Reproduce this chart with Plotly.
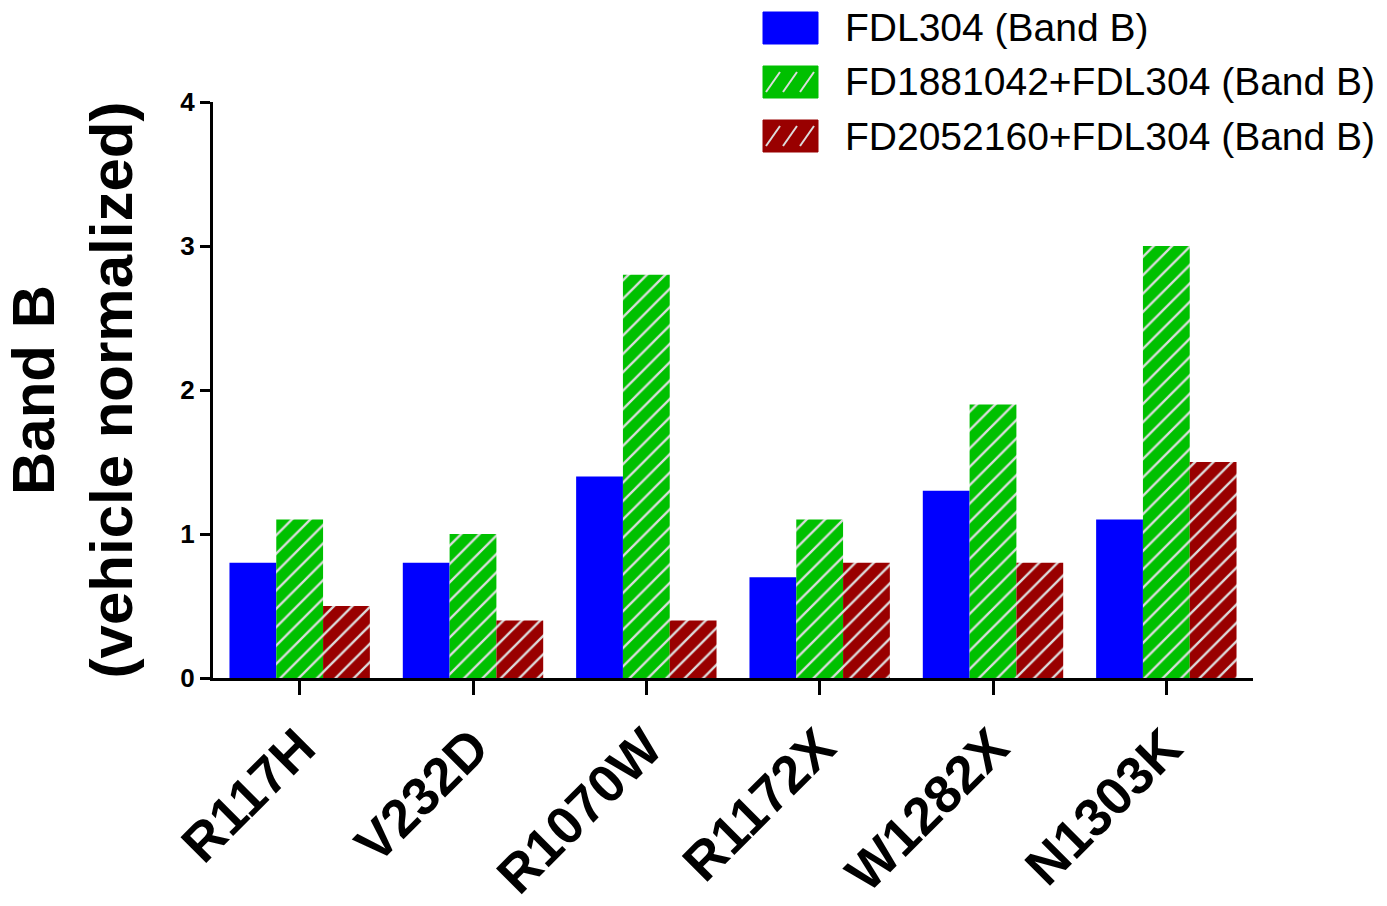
import plotly.graph_objects as go

categories = ["R117H", "V232D", "R1070W", "R1172X", "W1282X", "N1303K"]
fdl304 = [0.8, 0.8, 1.4, 0.7, 1.3, 1.1]
fd1881042_fdl304 = [1.1, 1.0, 2.8, 1.1, 1.9, 3.0]
fd2052160_fdl304 = [0.5, 0.4, 0.4, 0.8, 0.8, 1.5]

series_names = ["FDL304 (Band B)", "FD1881042+FDL304 (Band B)", "FD2052160+FDL304 (Band B)"]
series_colors = ["#0000FF", "#00C000", "#990000"]
series_hatched = [False, True, True]
y_ticks = [0, 1, 2, 3, 4]

FONT = "Liberation Sans, Arial, Helvetica, sans-serif"
W, H = 1387, 906
ML, MR, MT, MB = 213, 134, 102, 228
PW, PH = W - ML - MR, H - MT - MB
HATCH = "#dcdcdc"


def px_x(px):
    return (px - ML) / PW


def px_y(py):
    return (H - MB - py) / PH


fig = go.Figure()
for name, vals, col, hatched in zip(series_names, [fdl304, fd1881042_fdl304, fd2052160_fdl304],
                                    series_colors, series_hatched):
    marker = dict(color=col, line=dict(width=0))
    if hatched:
        marker["pattern"] = dict(shape="/", fgcolor=HATCH, bgcolor=col, size=13, solidity=0.18,
                                 fillmode="replace")
    fig.add_trace(go.Bar(x=categories, y=vals, name=name, marker=marker, showlegend=False))

# custom legend (large swatches)
shapes = []
annotations = []
row_y = [28, 82, 136]
bx0, bx1 = 763, 818
for i, (name, col, hatched) in enumerate(zip(series_names, series_colors, series_hatched)):
    cy = row_y[i]
    y0, y1 = cy - 16, cy + 16
    shapes.append(dict(type="rect", xref="paper", yref="paper",
                       x0=px_x(bx0), x1=px_x(bx1), y0=px_y(y1), y1=px_y(y0),
                       fillcolor=col, line=dict(width=1, color=col), layer="above"))
    if hatched:
        for sx in [772, 789, 806]:
            shapes.append(dict(type="line", xref="paper", yref="paper",
                               x0=px_x(sx - 6), y0=px_y(y1 - 6), x1=px_x(sx + 8), y1=px_y(y0 + 6),
                               line=dict(color=HATCH, width=2), layer="above"))
    annotations.append(dict(text=name, xref="paper", yref="paper", x=px_x(843), y=px_y(cy),
                            xanchor="left", yanchor="middle", showarrow=False,
                            font=dict(family=FONT, size=39, color="black")))

fig.update_layout(
    width=W, height=H, autosize=False,
    margin=dict(l=ML, r=MR, t=MT, b=MB, pad=0),
    paper_bgcolor="white", plot_bgcolor="white",
    barmode="group", bargap=0.19, bargroupgap=0,
    showlegend=False,
    font=dict(family=FONT, color="black"),
    shapes=shapes, annotations=annotations,
)
fig.update_xaxes(
    type="category", range=[-0.5, 5.5], automargin=False,
    showline=True, linecolor="black", linewidth=3,
    ticks="outside", ticklen=14, tickwidth=3, tickcolor="black",
    tickangle=-45, tickfont=dict(family=FONT, size=53, color="black", weight="bold"),
    showgrid=False, zeroline=False,
)
fig.update_yaxes(
    range=[0, 4], tickvals=y_ticks, automargin=False,
    showline=True, linecolor="black", linewidth=3,
    ticks="outside", ticklen=10, tickwidth=3, tickcolor="black",
    tickfont=dict(family=FONT, size=26, color="black", weight="bold"),
    showgrid=False, zeroline=False,
    title=dict(text="Band B<br>(vehicle normalized)", standoff=48,
               font=dict(family=FONT, size=60, color="black", weight="bold")),
)

fig.write_html("out.html")
